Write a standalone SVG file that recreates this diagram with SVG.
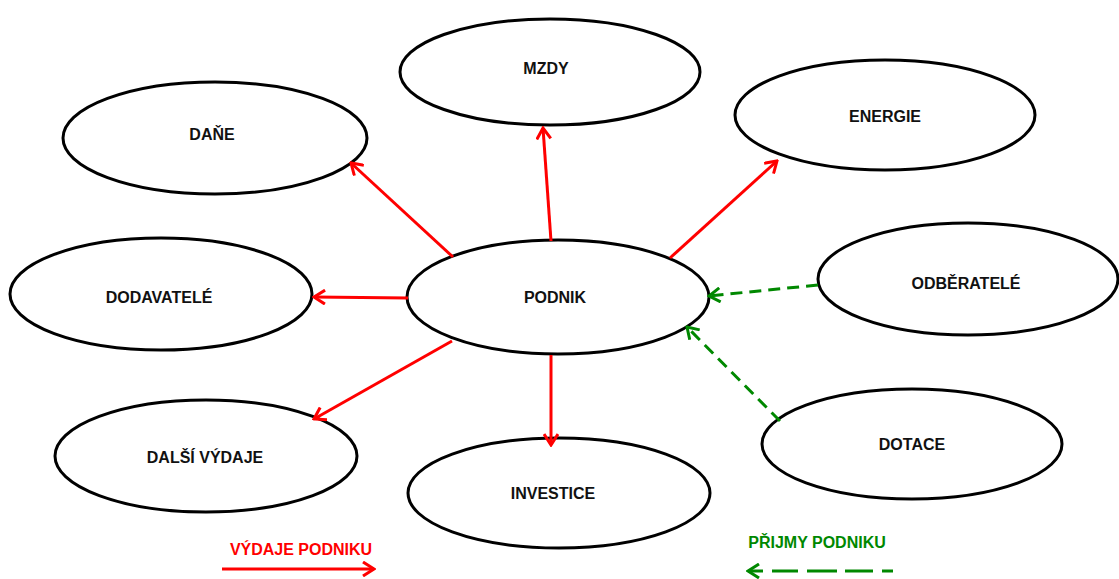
<svg xmlns="http://www.w3.org/2000/svg" width="1119" height="579" viewBox="0 0 1119 579">
<style>
.n ellipse{fill:#fff;stroke:#000;stroke-width:3}
.n text{font-family:"Liberation Sans",Arial,sans-serif;font-weight:bold;font-size:16px;fill:#111;text-anchor:middle;dominant-baseline:central}
.r{stroke:#f00;stroke-width:3;fill:none}
.g{stroke:#080;stroke-width:3;fill:none;stroke-dasharray:12,7}
.lg{font-family:"Liberation Sans",Arial,sans-serif;font-weight:bold;font-size:16px;text-anchor:middle;dominant-baseline:central}
</style>
<defs>
<marker id="ar" viewBox="-12 -8 14 16" markerWidth="14" markerHeight="16" refX="0" refY="0" orient="auto" markerUnits="userSpaceOnUse">
<path d="M-11,-7 L0,0 L-11,7" fill="none" stroke="#f00" stroke-width="3"/>
</marker>
<marker id="ag" viewBox="-12 -8 14 16" markerWidth="14" markerHeight="16" refX="0" refY="0" orient="auto" markerUnits="userSpaceOnUse">
<path d="M-11,-7 L0,0 L-11,7" fill="none" stroke="#080" stroke-width="3"/>
</marker>
</defs>
<rect width="1119" height="579" fill="#fff"/>
<g id="mzdy" class="n"><ellipse cx="550" cy="72" rx="150" ry="53"/><text x="546" y="68">MZDY</text></g>
<g id="dane" class="n"><ellipse cx="215" cy="138" rx="152" ry="56"/><text x="212" y="134">DAŇE</text></g>
<g id="energie" class="n"><ellipse cx="885" cy="115" rx="150" ry="55"/><text x="885" y="116">ENERGIE</text></g>
<g id="dodavatele" class="n"><ellipse cx="161" cy="294" rx="151" ry="56"/><text x="159" y="297">DODAVATELÉ</text></g>
<g id="podnik" class="n"><ellipse cx="558" cy="297" rx="151" ry="57"/><text x="555" y="297">PODNIK</text></g>
<g id="odberatele" class="n"><ellipse cx="968" cy="279" rx="150" ry="56"/><text x="966" y="283">ODBĚRATELÉ</text></g>
<g id="dalsi-vydaje" class="n"><ellipse cx="206" cy="456" rx="151" ry="56"/><text x="205" y="457">DALŠÍ VÝDAJE</text></g>
<g id="investice" class="n"><ellipse cx="559" cy="493" rx="151" ry="55"/><text x="553" y="493">INVESTICE</text></g>
<g id="dotace" class="n"><ellipse cx="912" cy="444" rx="150" ry="55"/><text x="912" y="444">DOTACE</text></g>
<g id="connectors">
<line class="r" x1="453" y1="257" x2="351" y2="163" marker-end="url(#ar)"/>
<line class="r" x1="551" y1="241" x2="543" y2="128" marker-end="url(#ar)"/>
<line class="r" x1="670" y1="258" x2="777" y2="161" marker-end="url(#ar)"/>
<line class="r" x1="408" y1="298" x2="314" y2="297" marker-end="url(#ar)"/>
<line class="r" x1="452" y1="341" x2="314" y2="419" marker-end="url(#ar)"/>
<line class="r" x1="551" y1="355" x2="551" y2="445" marker-end="url(#ar)"/>
<line class="g" x1="818" y1="285" x2="709" y2="296" marker-end="url(#ag)"/>
<line class="g" x1="780" y1="421" x2="687" y2="327" marker-end="url(#ag)"/>
</g>
<g id="legend">
<text class="lg" x="301" y="549" fill="#f00">VÝDAJE PODNIKU</text>
<line class="r" x1="222" y1="569" x2="374" y2="569" marker-end="url(#ar)"/>
<text class="lg" x="817" y="542" fill="#080">PŘIJMY PODNIKU</text>
<line class="g" x1="893" y1="571" x2="748" y2="571" marker-end="url(#ag)" style="stroke-dasharray:11,9,28,8,30,9,26,9,40,0"/>
</g>
</svg>
